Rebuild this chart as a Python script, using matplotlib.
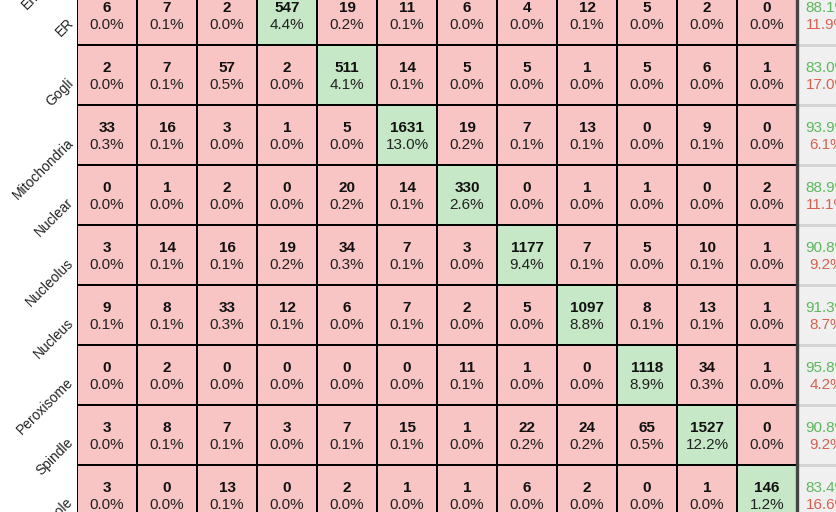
import numpy as np
import matplotlib.pyplot as plt
import matplotlib.transforms as mtransforms
from matplotlib.colors import ListedColormap

plt.rcParams['font.family'] = ['Liberation Sans', 'DejaVu Sans']

# rows visible in the crop (true classes), the row above only shows its label
above_label = "Endosome"
row_labels = ["ER", "Gogli", "Mitochondria", "Nuclear", "Nucleolus",
              "Nucleus", "Peroxisome", "Spindle", "Vacuole"]
# index of the predicted-class column that matches each row's true class
row_class = [3, 4, 5, 6, 7, 8, 9, 10, 11]
n_cols = 12

counts = [
    [6, 7, 2, 547, 19, 11, 6, 4, 12, 5, 2, 0],
    [2, 7, 57, 2, 511, 14, 5, 5, 1, 5, 6, 1],
    [33, 16, 3, 1, 5, 1631, 19, 7, 13, 0, 9, 0],
    [0, 1, 2, 0, 20, 14, 330, 0, 1, 1, 0, 2],
    [3, 14, 16, 19, 34, 7, 3, 1177, 7, 5, 10, 1],
    [9, 8, 33, 12, 6, 7, 2, 5, 1097, 8, 13, 1],
    [0, 2, 0, 0, 0, 0, 11, 1, 0, 1118, 34, 1],
    [3, 8, 7, 3, 7, 15, 1, 22, 24, 65, 1527, 0],
    [3, 0, 13, 0, 2, 1, 1, 6, 2, 0, 1, 146],
]

percents = [
    [0.0, 0.1, 0.0, 4.4, 0.2, 0.1, 0.0, 0.0, 0.1, 0.0, 0.0, 0.0],
    [0.0, 0.1, 0.5, 0.0, 4.1, 0.1, 0.0, 0.0, 0.0, 0.0, 0.0, 0.0],
    [0.3, 0.1, 0.0, 0.0, 0.0, 13.0, 0.2, 0.1, 0.1, 0.0, 0.1, 0.0],
    [0.0, 0.0, 0.0, 0.0, 0.2, 0.1, 2.6, 0.0, 0.0, 0.0, 0.0, 0.0],
    [0.0, 0.1, 0.1, 0.2, 0.3, 0.1, 0.0, 9.4, 0.1, 0.0, 0.1, 0.0],
    [0.1, 0.1, 0.3, 0.1, 0.0, 0.1, 0.0, 0.0, 8.8, 0.1, 0.1, 0.0],
    [0.0, 0.0, 0.0, 0.0, 0.0, 0.0, 0.1, 0.0, 0.0, 8.9, 0.3, 0.0],
    [0.0, 0.1, 0.1, 0.0, 0.1, 0.1, 0.0, 0.2, 0.2, 0.5, 12.2, 0.0],
    [0.0, 0.0, 0.1, 0.0, 0.0, 0.0, 0.0, 0.0, 0.0, 0.0, 0.0, 1.2],
]

recall = [88.1, 83.0, 93.9, 88.9, 90.8, 91.3, 95.8, 90.8, 83.4]
miss = [11.9, 17.0, 6.1, 11.1, 9.2, 8.7, 4.2, 9.2, 16.6]

pink = '#f8c4c4'
green = '#c6e8c6'
summary_bg = '#f0f0f0'
good_txt = '#5cb85c'
bad_txt = '#d9604f'

n_rows = len(row_labels)
is_diag = np.zeros((n_rows, n_cols))
for r, c in enumerate(row_class):
    is_diag[r, c] = 1

fig = plt.figure(figsize=(8.37, 5.12), dpi=100)
# the picture is a crop of a bigger matrix, so the axes run past the figure edges
ax = fig.add_axes([77 / 837, -13 / 512, 780 / 837, 600 / 512])

ax.pcolormesh(np.arange(-0.5, n_cols), np.arange(-0.5, n_rows), is_diag,
              cmap=ListedColormap([pink, green]), vmin=0, vmax=1,
              edgecolors='black', linewidth=1.1)
ax.pcolormesh([n_cols - 0.5, n_cols + 0.5], np.arange(-0.5, n_rows),
              np.zeros((n_rows, 1)), cmap=ListedColormap([summary_bg]),
              edgecolors='#d4d4d4', linewidth=1.0)
ax.axvline(n_cols - 0.5, color='#444444', lw=2.4)

for r in range(n_rows):
    for c in range(n_cols):
        ax.text(c, r - 0.11, str(counts[r][c]), ha='center', va='center',
                fontsize=11, fontweight='bold', color='#111111')
        ax.text(c, r + 0.17, f'{percents[r][c]:.1f}%', ha='center', va='center',
                fontsize=11, color='#222222')
    ax.text(n_cols, r - 0.11, f'{recall[r]:.1f}%', ha='center', va='center',
            fontsize=11, color=good_txt)
    ax.text(n_cols, r + 0.17, f'{miss[r]:.1f}%', ha='center', va='center',
            fontsize=11, color=bad_txt)

ax.set_xlim(-0.5, n_cols + 0.5)
ax.set_ylim(n_rows - 0.5, -1.5)
ax.set_xticks([])
ax.set_yticks(range(-1, n_rows))
ax.set_yticklabels([above_label] + row_labels, rotation=45, ha='right',
                   va='center', rotation_mode='anchor', fontsize=10,
                   color='#222222')
ax.tick_params(axis='y', length=0, pad=3)
shift = mtransforms.ScaledTranslation(-1 / 72, -4 / 72, fig.dpi_scale_trans)
for lab in ax.get_yticklabels():
    lab.set_transform(lab.get_transform() + shift)
for s in ax.spines.values():
    s.set_visible(False)

fig.savefig('out.png', dpi=100)
